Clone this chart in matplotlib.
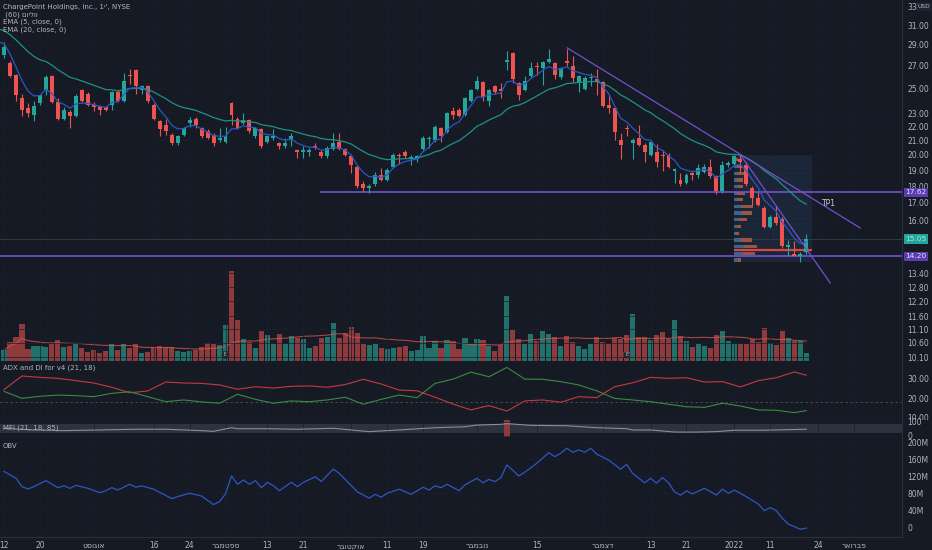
import numpy as np
import pandas as pd
import matplotlib
matplotlib.use("Agg")
import matplotlib.pyplot as plt
from matplotlib.patches import Rectangle
from matplotlib.transforms import Bbox, TransformedBbox
from matplotlib.ticker import NullLocator, NullFormatter

# daily bars, CHPT, Jul 12 2021 .. Jan 20 2022 (bar index 0..134)
opens = [28.0, 27.3, 26.2, 24.2, 23.4, 22.9, 23.8, 24.9, 26.1, 23.9,
         22.6, 23.1, 22.8, 24.9, 24.6, 23.7, 23.6, 23.5, 23.7, 24.7,
         24.0, 26.2, 26.6, 24.9, 25.2, 23.7, 22.4, 22.1, 21.4, 20.8,
         21.4, 22.3, 22.6, 21.9, 21.7, 21.4, 21.0, 20.9, 23.8, 22.6,
         22.3, 22.5, 21.3, 21.8, 20.9, 21.2, 20.8, 20.6, 21.0, 20.3,
         20.2, 20.2, 20.6, 20.2, 19.9, 20.4, 20.9, 20.4, 19.9, 19.2,
         18.1, 17.9, 18.1, 18.7, 18.4, 19.2, 20.0, 20.2, 19.75, 19.7,
         20.4, 21.1, 21.0, 21.9, 21.6, 23.2, 23.3, 22.9, 24.0, 25.0,
         25.6, 24.0, 25.2, 25.0, 27.4, 28.2, 25.5, 24.9, 26.1, 27.0,
         26.8, 27.4, 27.3, 26.0, 27.5, 27.0, 25.6, 25.0, 25.9, 25.8,
         25.6, 23.7, 23.4, 21.0, 21.85, 20.8, 21.2, 20.7, 20.0, 20.2,
         19.95, 20.0, 18.95, 18.4, 18.2, 18.8, 18.7, 18.9, 19.2, 18.6,
         17.7, 19.3, 19.4, 19.7, 19.3, 17.9, 17.3, 16.7, 15.7, 16.2,
         16.1, 14.65, 14.3, 14.2, 14.4]
highs = [29.3, 27.5, 26.3, 24.6, 23.8, 24.0, 24.6, 26.2, 26.2, 24.2,
         23.5, 23.3, 24.6, 25.0, 24.7, 23.9, 23.7, 23.6, 24.8, 24.9,
         26.4, 26.7, 26.7, 25.3, 25.3, 23.8, 22.5, 22.6, 21.5, 21.4,
         22.0, 22.7, 22.7, 22.0, 21.8, 21.5, 21.9, 22.0, 23.9, 22.7,
         23.0, 22.6, 22.0, 21.9, 21.4, 21.8, 20.9, 21.2, 21.5, 20.4,
         20.6, 20.5, 20.8, 20.3, 20.6, 21.5, 21.5, 20.5, 20.0, 19.3,
         18.3, 18.1, 18.9, 19.1, 19.1, 20.1, 20.1, 20.3, 20.0, 20.0,
         21.3, 21.3, 22.1, 22.0, 23.1, 23.5, 23.4, 24.3, 25.0, 26.1,
         25.7, 25.0, 25.3, 25.5, 28.4, 28.3, 25.6, 26.1, 27.4, 27.4,
         27.5, 28.6, 27.4, 26.9, 28.6, 27.9, 26.2, 26.1, 26.4, 26.7,
         25.7, 24.5, 23.5, 21.5, 22.1, 21.2, 22.1, 20.8, 21.0, 20.75,
         20.3, 20.1, 19.1, 18.8, 18.8, 18.9, 19.4, 19.4, 19.7, 18.7,
         19.6, 19.6, 20.0, 20.0, 19.5, 18.0, 17.7, 16.8, 16.3, 16.8,
         16.2, 15.0, 14.97, 14.4, 15.3]
lows = [27.7, 26.0, 24.0, 22.8, 22.7, 22.4, 23.7, 24.5, 23.8, 22.5,
        22.5, 21.9, 22.7, 23.9, 23.6, 23.2, 22.9, 23.2, 23.3, 23.9,
        23.9, 25.4, 24.6, 24.6, 23.8, 22.5, 21.3, 21.4, 20.7, 20.7,
        21.3, 22.0, 21.9, 21.2, 21.1, 20.6, 20.9, 20.8, 22.1, 21.8,
        22.2, 21.5, 21.2, 20.5, 20.8, 21.0, 20.4, 20.5, 20.6, 19.8,
        19.8, 19.9, 20.4, 19.8, 19.8, 20.3, 20.3, 19.9, 18.8, 17.9,
        17.7, 17.6, 18.0, 18.3, 18.3, 19.1, 19.4, 19.8, 19.3, 19.5,
        20.3, 20.5, 20.9, 20.9, 21.5, 22.6, 22.7, 22.8, 23.9, 24.9,
        24.0, 23.6, 24.6, 24.2, 26.6, 25.5, 24.1, 24.8, 26.0, 26.2,
        25.3, 27.3, 25.8, 25.8, 27.0, 25.6, 24.7, 24.9, 25.2, 24.5,
        23.5, 23.0, 21.0, 19.7, 21.3, 19.7, 20.6, 19.5, 19.9, 19.2,
        18.95, 19.1, 18.2, 18.0, 18.1, 18.4, 18.5, 18.8, 18.5, 17.5,
        17.6, 19.2, 19.3, 18.9, 18.0, 16.9, 16.8, 15.6, 15.6, 15.8,
        14.6, 14.2, 14.2, 13.95, 14.3]
closes = [28.8, 26.1, 24.5, 23.3, 23.0, 23.6, 24.5, 26.0, 23.9, 22.6,
          23.3, 22.8, 24.4, 24.0, 23.7, 23.5, 23.3, 23.3, 24.7, 24.0,
          25.7, 26.1, 25.2, 25.2, 24.0, 22.6, 21.8, 21.7, 20.8, 21.3,
          21.9, 22.5, 22.1, 21.3, 21.2, 20.8, 21.2, 21.3, 22.9, 21.9,
          22.5, 21.7, 21.9, 20.6, 21.3, 21.3, 20.6, 20.8, 21.3, 20.2,
          20.3, 20.3, 20.5, 19.9, 20.5, 20.8, 20.4, 20.0, 19.3, 18.0,
          17.9, 18.0, 18.7, 18.4, 19.0, 20.0, 19.9, 19.9, 19.8, 19.9,
          21.2, 21.15, 22.0, 21.3, 23.0, 22.9, 22.8, 24.2, 24.9, 25.7,
          24.3, 24.9, 24.7, 24.8, 27.5, 25.8, 24.5, 25.7, 26.8, 26.9,
          27.4, 27.6, 26.2, 26.8, 27.3, 25.9, 26.1, 25.9, 26.0, 25.6,
          23.6, 23.4, 21.6, 20.7, 21.8, 21.0, 20.7, 20.2, 20.9, 19.5,
          19.9, 19.2, 19.05, 18.1, 18.7, 18.7, 19.1, 19.2, 18.6, 17.7,
          19.3, 19.45, 19.9, 19.5, 18.1, 17.3, 16.9, 15.7, 16.2, 15.9,
          14.7, 14.75, 14.2, 14.3, 15.05]
# volume, millions of shares
volume = [6.6, 11.2, 14.2, 22.2, 7.0, 8.8, 8.8, 8.2, 10.2, 12.6,
          8.2, 8.8, 10.0, 8.0, 5.4, 6.6, 4.8, 5.8, 10.4, 6.8,
          10.0, 8.0, 10.4, 4.8, 5.4, 8.2, 8.8, 8.2, 8.4, 5.8,
          5.4, 6.0, 6.6, 8.2, 10.8, 10.0, 9.8, 21.6, 54.0, 24.4,
          13.0, 11.4, 7.6, 18.0, 15.8, 10.0, 16.0, 10.2, 15.0, 14.0,
          13.0, 8.0, 9.2, 13.8, 14.4, 22.8, 13.6, 16.6, 20.2, 17.0,
          10.2, 9.6, 10.2, 7.8, 7.2, 8.0, 8.2, 8.8, 6.0, 6.6,
          15.0, 7.8, 11.8, 7.8, 12.6, 12.0, 7.2, 13.6, 10.2, 13.2,
          12.4, 9.0, 6.2, 9.4, 39.0, 18.8, 13.4, 10.2, 16.2, 12.0,
          17.8, 16.2, 14.2, 9.0, 15.2, 11.2, 9.0, 7.0, 10.2, 14.4,
          11.2, 10.2, 13.6, 13.0, 15.8, 28.0, 14.4, 14.2, 12.8, 15.8,
          17.2, 13.4, 24.6, 14.8, 12.0, 8.2, 10.2, 9.0, 7.6, 15.6,
          17.8, 12.0, 10.4, 10.2, 10.2, 13.2, 11.6, 19.6, 11.0, 9.8,
          18.0, 13.6, 12.2, 12.2, 4.8]

# EMA values just before the first visible bar
ema5_seed = 29.3
ema20_seed = 30.6

# ADX / DI pane (sampled bars)
di_idx = list(range(0, 133, 3)) + [134]
di_minus = [24.4, 31.4, 30.7, 30.2, 29.0, 27.8, 25.6, 22.8, 23.7, 28.3,
            27.8, 27.6, 26.8, 24.6, 25.9, 25.2, 26.1, 26.3, 25.6, 27.0,
            29.7, 27.3, 24.2, 23.8, 20.5, 17.0, 14.0, 16.2, 13.4, 18.6,
            19.1, 17.9, 20.8, 20.3, 25.9, 27.9, 30.7, 30.2, 30.5, 28.3,
            28.5, 25.8, 29.0, 30.5, 33.5, 31.8]
di_plus = [23.5, 19.9, 21.0, 21.6, 21.3, 20.8, 22.5, 23.3, 20.8, 18.2,
           19.1, 18.1, 17.4, 22.0, 19.4, 17.4, 18.6, 18.2, 19.1, 20.5,
           16.9, 19.4, 21.6, 20.3, 27.6, 29.8, 33.4, 31.0, 35.8, 29.8,
           29.7, 28.5, 26.8, 23.8, 19.9, 19.1, 18.2, 16.9, 15.6, 15.3,
           17.4, 16.0, 14.0, 13.8, 12.6, 13.6]
di_level = 18

# MFI pane
mfi_idx = [0, 5, 10, 16, 22, 27, 33, 35, 38, 39, 44, 49, 55, 58, 61, 66, 72,
           77, 79, 83, 84, 88, 94, 99, 104, 105, 108, 112, 116, 119, 122, 127, 134]
mfi_vals = [52, 41, 36, 41, 46, 46, 36, 31, 57, 50, 50, 46, 53, 41, 29, 41, 57,
            64, 76, 81, 86, 74, 71, 57, 50, 41, 41, 26, 26, 29, 39, 39, 46]
mfi_low, mfi_high = 18, 85
mfi_alert_bar = 84

# OBV pane, millions
obv_idx = [0, 2, 3, 4, 5, 7, 9, 10, 11, 12, 14, 16, 17, 18, 19, 21, 22, 23, 25, 28,
           29, 31, 33, 35, 36, 37, 38, 39, 40, 41, 42, 43, 44, 45, 46, 48, 49, 50, 52, 53,
           55, 56, 59, 61, 62, 63, 64, 66, 68, 70, 71, 72, 73, 74, 76, 77, 79, 80, 81, 82,
           83, 84, 86, 87, 88, 89, 91, 92, 93, 94, 95, 96, 97, 98, 99, 101, 103, 104, 105, 107,
           108, 109, 110, 111, 112, 113, 114, 115, 117, 119, 120, 121, 122, 124, 126, 127, 128, 129, 130, 131,
           133, 134]
obv_vals = [131.5, 115.6, 96, 90.5, 96, 110, 93.6, 98, 92, 99, 92, 82, 86.5, 93.6, 88, 101.5, 94.5, 97.5, 90, 68,
            72.5, 80.5, 74, 54, 61, 79, 121, 101.5, 111.6, 101.5, 110, 93.6, 106, 98, 86.5, 106, 96, 106, 119, 108,
            137, 127, 84, 69, 78, 71, 80.5, 90, 78, 94.5, 88, 98, 93.6, 101.5, 86.5, 100, 115.5, 105, 113, 107.6,
            117, 146.7, 121, 130, 140, 150.6, 175.4, 166, 174, 185.7, 176.4, 181.8, 176.4, 185.7, 172, 158, 136.6, 148, 127, 105,
            115.5, 104, 117, 105, 84, 76, 86, 79, 92, 76.5, 90, 80.5, 88, 72.5, 55, 40, 47, 40, 22, 8.5,
            -3.7, -1.0]

# drawings
level_tp = 17.62
level_tp_start = 52.8
level_support = 14.20
trend_a_x, trend_a_y = [94.07, 143.0], [28.7, 15.63]
trend_b_x, trend_b_y = [123.0, 138.0], [20.0, 12.98]
box_x0, box_x1, box_lo, box_hi = 121.9, 134.9, 13.95, 20.0
poc_price = 14.5
prof_levels = [19.67, 19.23, 18.8, 18.37, 17.96, 17.55, 17.18, 16.8, 16.43, 16.06,
               15.7, 15.35, 15.0, 14.67, 14.34, 14.02]
prof_up = [2, 3, 3, 3, 4, 3, 3, 7, 8, 5, 3, 2, 6, 10, 9, 4]
prof_down = [2, 5, 8, 6, 5, 8, 6, 12, 10, 8, 4, 3, 12, 13, 12, 3]
earnings_bars = [37, 104]

xt_idx = [0, 6, 15, 25, 31, 37, 44, 50, 58, 64, 70, 79, 89, 100, 108, 114, 122, 128, 136, 142]
xt_labels = ['12', '20', 'אוגוסט', '16', '24', 'ספטמבר', '13', '21', 'אוקטובר', '11', '19',
             'נובמבר', '15', 'דצמבר', '13', '21', '2022', '11', '24', 'פברואר']
price_ticks = [10.1, 10.6, 11.1, 11.6, 12.2, 12.8, 13.4, 16, 17, 18, 19, 20, 21, 22, 23, 25, 27, 29, 31, 33]


def rtl(s):
    # matplotlib has no bidi: flip pure Hebrew strings so they read right
    return s[::-1] if any('\u0590' <= ch <= '\u05ff' for ch in s) else s


def ema(values, span, seed):
    a = 2.0 / (span + 1)
    out, prev = [], seed
    for v in values:
        prev = prev + a * (v - prev)
        out.append(prev)
    return np.array(out)


plt.rcParams['font.family'] = ['DejaVu Sans']

BG = '#161a25'
TXT = '#b2b5be'
GRID = '#1b1f2c'
SEP = '#2a2e39'
UP = '#26a69a'
DN = '#ef5350'
PURPLE = '#7450d0'

W, H = 932, 550
fig = plt.figure(figsize=(W / 100, H / 100), dpi=100, facecolor=BG)


def rect(x0, y0, x1, y1):
    return [x0 / W, 1 - y1 / H, (x1 - x0) / W, (y1 - y0) / H]


ax_vol = fig.add_axes(rect(0, 0, 902, 361))
ax = fig.add_axes(rect(0, 0, 902, 361), sharex=ax_vol)
ax_adx = fig.add_axes(rect(0, 361, 902, 420), sharex=ax_vol)
ax_mfi = fig.add_axes(rect(0, 420, 902, 437), sharex=ax_vol)
ax_obv = fig.add_axes(rect(0, 437, 902, 537), sharex=ax_vol)

for a in [ax, ax_adx, ax_mfi, ax_obv]:
    a.set_facecolor(BG)
    a.spines['top'].set_visible(False)
    a.spines['left'].set_visible(False)
    a.spines['right'].set_color(SEP)
    a.spines['bottom'].set_color(SEP)
    a.yaxis.tick_right()
    a.tick_params(axis='both', which='both', length=0, labelsize=5.5, colors=TXT, pad=4)
    a.tick_params(axis='x', labelbottom=False)
    a.grid(True, color=GRID, lw=0.5)
ax.patch.set_visible(False)
ax_vol.set_facecolor(BG)
ax_vol.set_axis_off()

n = len(closes)
idx = np.arange(n)
o = np.array(opens)
c = np.array(closes)
up = c >= o
cols = np.where(up, UP, DN)

# volume underlay
ax_vol.bar(idx, volume, width=0.86, color=np.where(up, '#22716b', '#8f3a3c'), linewidth=0)
vol_ma = pd.Series(volume).rolling(20, min_periods=1).mean()
ax_vol.plot(idx, vol_ma, color='#d9564f', lw=0.8, alpha=0.75)
ax_vol.set_ylim(0, 216)
for b in earnings_bars:
    ax_vol.text(b, 3.6, 'E', ha='center', va='center', fontsize=3.5, color='#c9ccd4',
                bbox=dict(boxstyle='circle,pad=0.25', fc='#1d2a2e', ec='#8f3a3c' if b > 60 else '#2b3a3e', lw=0.6))

# price pane
ax.set_yscale('log')
ax.set_ylim(9.97, 33.74)
ax.set_xlim(-0.67, 150.0)
ax.set_yticks(price_ticks, labels=['33' if t == 33 else f'{t:.2f}' for t in price_ticks])
ax.yaxis.set_minor_locator(NullLocator())
ax.yaxis.set_minor_formatter(NullFormatter())
ytr = ax.get_yaxis_transform()
ax.text(1.017, 33, 'USD', transform=ytr, ha='left', va='center', fontsize=4.3, color=TXT,
        bbox=dict(boxstyle='round,pad=0.15', fc='#1f2330', ec='#2f3340', lw=0.4), clip_on=False)

ax.add_patch(Rectangle((box_x0, box_lo), box_x1 - box_x0, box_hi - box_lo,
                       facecolor='#1b2738', edgecolor='none', zorder=1))
up_w = np.array(prof_up) / 6.0
dn_w = np.array(prof_down) / 6.0
hts = np.array(prof_levels) * 0.011
ax.barh(prof_levels, up_w, left=box_x0, height=hts, color='#3b6688', linewidth=0, zorder=2)
ax.barh(prof_levels, dn_w, left=box_x0 + up_w, height=hts, color='#9a5644', linewidth=0, zorder=2)
ax.hlines(poc_price, box_x0, box_x1, color='#d9473f', lw=1.6, zorder=2)

ax.axhline(c[-1], color='#2c3d45', lw=0.7, zorder=1)
ax.axhline(level_support, color=PURPLE, lw=1.2, zorder=2)
ax.hlines(level_tp, level_tp_start, 150, color=PURPLE, lw=1.2, zorder=2)

ax.vlines(idx, lows, highs, colors=cols, lw=0.8, zorder=3)
body_lo = np.minimum(o, c)
body_h = np.maximum(np.abs(c - o), body_lo * 0.004)
ax.bar(idx, body_h, bottom=body_lo, width=0.66, color=cols, linewidth=0, zorder=4)

xe = np.r_[-1, idx]
ax.plot(xe, np.r_[ema20_seed, ema(closes, 20, ema20_seed)], color='#1f9185', lw=0.9, zorder=5)
ax.plot(xe, np.r_[ema5_seed, ema(closes, 5, ema5_seed)], color='#2a56c6', lw=0.9, zorder=5)

ax.plot(trend_a_x, trend_a_y, color=PURPLE, lw=0.9, zorder=6)
ax.plot(trend_b_x, trend_b_y, color=PURPLE, lw=0.9, zorder=6)
ax.text(137.8, 16.95, 'TP1', color='#c9ccd4', fontsize=5.5, ha='center', va='center', zorder=6)

for val, txt, fc, tc in [(level_tp, f'{level_tp:.2f}', '#5b3db0', '#e6e1f5'),
                          (level_support, f'{level_support:.2f}', '#5b3db0', '#e6e1f5'),
                          (c[-1], f'{c[-1]:.2f}', UP, '#9fe6dc')]:
    ax.text(1.004, val, txt, transform=ytr, ha='left', va='center', fontsize=5.3, color=tc,
            bbox=dict(boxstyle='square,pad=0.22', fc=fc, ec='none'), clip_on=False, zorder=10)

fig.text(3 / W, 1 - 7 / H, "ChargePoint Holdings, Inc., 1י', NYSE", color=TXT, fontsize=5, va='center')
fig.text(3 / W, 1 - 14.5 / H, ' (60) ' + rtl('ווליום'), color=TXT, fontsize=5, va='center')
fig.text(3 / W, 1 - 22 / H, 'EMA (5, close, 0)', color=TXT, fontsize=5, va='center')
fig.text(3 / W, 1 - 29.5 / H, 'EMA (20, close, 0)', color=TXT, fontsize=5, va='center')

# ADX and DI
ax_adx.set_ylim(8.8, 39.1)
ax_adx.set_yticks([10, 20, 30], labels=['10.00', '20.00', '30.00'])
ax_adx.axhline(di_level, color='#4e525e', lw=0.6, ls=(0, (3, 3)))
ax_adx.plot(di_idx, di_minus, color='#c7383e', lw=0.8)
ax_adx.plot(di_idx, di_plus, color='#3c8a44', lw=0.8)
fig.text(3 / W, 1 - 368 / H, 'ADX and DI for v4 (21, 18)', color=TXT, fontsize=5, va='center')
# price-scale labels are cut at the pane border, as in the terminal
adx_clip = TransformedBbox(Bbox([[0, 1 - 420 / H], [1, 1 - 361 / H]]), fig.transFigure)
for t in ax_adx.yaxis.get_major_ticks():
    t.label2.set_clip_box(adx_clip)
    t.label2.set_clip_on(True)

# MFI
ax_mfi.set_ylim(-9.3, 112)
ax_mfi.set_yticks([0, 100], labels=['0', '100'])
ax_mfi.axhspan(mfi_low, mfi_high, color='#2e3240', lw=0)
ax_mfi.axvspan(mfi_alert_bar - 0.5, mfi_alert_bar + 0.5, color='#8e3a3d', lw=0)
ax_mfi.plot(mfi_idx, mfi_vals, color='#8a8d96', lw=0.8)
fig.text(3 / W, 1 - 428 / H, 'MFI (21, 18, 85)', color=TXT, fontsize=5, va='center')

# OBV
ax_obv.set_ylim(-21.8, 212)
ax_obv.set_yticks([0, 40, 80, 120, 160, 200], labels=['0', '40M', '80M', '120M', '160M', '200M'])
ax_obv.plot(obv_idx, obv_vals, color='#2f56c4', lw=0.9)
fig.text(3 / W, 1 - 446 / H, 'OBV', color=TXT, fontsize=5, va='center')

ax_obv.set_xticks(xt_idx, labels=[rtl(s) for s in xt_labels])
ax_obv.tick_params(axis='x', labelbottom=True, pad=3)

fig.savefig('out.png', dpi=100, facecolor=BG)
